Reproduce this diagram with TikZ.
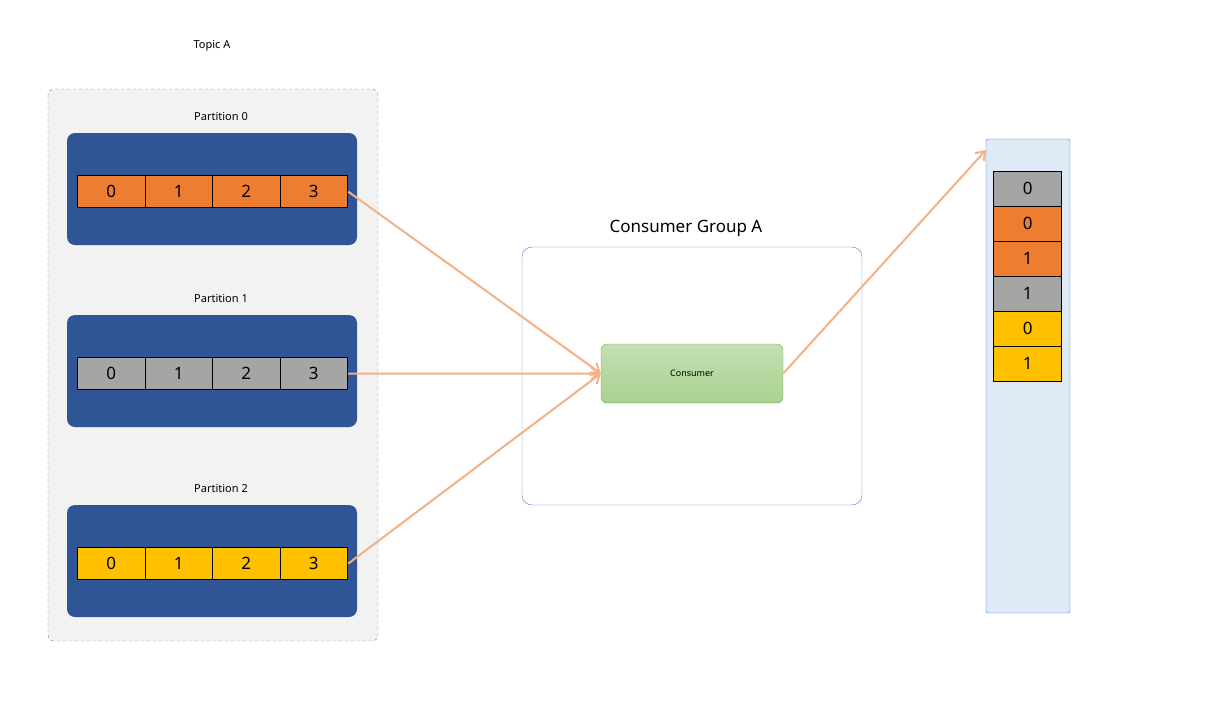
\documentclass[tikz,border=0pt]{standalone}
\usepackage{fontspec}
\setmainfont{Noto Sans}
\usetikzlibrary{arrows.meta}
\definecolor{pblue}{HTML}{2F5597}
\definecolor{corange}{HTML}{ED7D31}
\definecolor{cgray}{HTML}{A5A5A5}
\definecolor{cyellow}{HTML}{FFC000}
\definecolor{arr}{HTML}{F4B183}
\definecolor{bord}{HTML}{4472C4}
\definecolor{lblue}{HTML}{DEEBF7}
\definecolor{gtop}{HTML}{C5E0B4}
\definecolor{gbot}{HTML}{A9D18E}
\definecolor{gbord}{HTML}{70AD47}
\begin{document}
\begin{tikzpicture}[x=1pt,y=-1pt,
  cell/.style={draw=black,line width=1.2pt,minimum width=67.5pt,minimum height=32pt,inner sep=0pt,font=\bfseries\fontsize{17}{17}\selectfont,anchor=north west},
  rcell/.style={draw=black,line width=1.2pt,minimum width=68pt,minimum height=34.5pt,inner sep=0pt,font=\bfseries\fontsize{17}{17}\selectfont,anchor=north west},
  part/.style={fill=pblue,rounded corners=8pt},
  lbl/.style={font=\bfseries\fontsize{11}{11}\selectfont},
  ar/.style={draw=arr,line width=2pt,-{Straight Barb[length=8pt,width=12pt]}}]
\useasboundingbox (0,0) rectangle (1215,726);
\node[lbl] (topic) at (212,46) {Topic A};
\draw[dashed,draw=gray,fill=black!5,rounded corners=6pt] (48,89) rectangle (378,641);
\foreach \i/\y/\c in {0/133/corange,1/315/cgray,2/505/cyellow}{
  \node[lbl] (pl\i) at (221,\y-17) {Partition \i};
  \fill[part] (67,\y) rectangle (357,\y+112);
  \foreach \k in {0,1,2,3}{
    \node[cell,fill=\c] (c\i\k) at (77+67.5*\k,\y+42) {\k};
  }
}
\node[font=\fontsize{17}{17}\selectfont] (cgl) at (686,228) {Consumer Group A};
\draw[bord,rounded corners=10pt] (522,247) rectangle (862,505);
\node[draw=gbord,top color=gtop,bottom color=gbot,rounded corners=6pt,minimum width=182pt,minimum height=59pt,font=\bfseries\fontsize{9}{9}\selectfont] (cons) at (692,373.5) {Consumer};
\draw[bord,fill=lblue,rounded corners=2pt] (986,139) rectangle (1070,613);
\foreach \t/\c [count=\n from 0] in {0/cgray,0/corange,1/corange,1/cgray,0/cyellow,1/cyellow}{
  \node[rcell,fill=\c] (r\n) at (993,171+35*\n) {\t};
}
\coordinate (top) at (986,150);
\draw[ar] (c03.east) -- (cons.west);
\draw[ar] (c13.east) -- (cons.west);
\draw[ar] (c23.east) -- (cons.west);
\draw[ar] (cons.east) -- (top);
\end{tikzpicture}
\end{document}
